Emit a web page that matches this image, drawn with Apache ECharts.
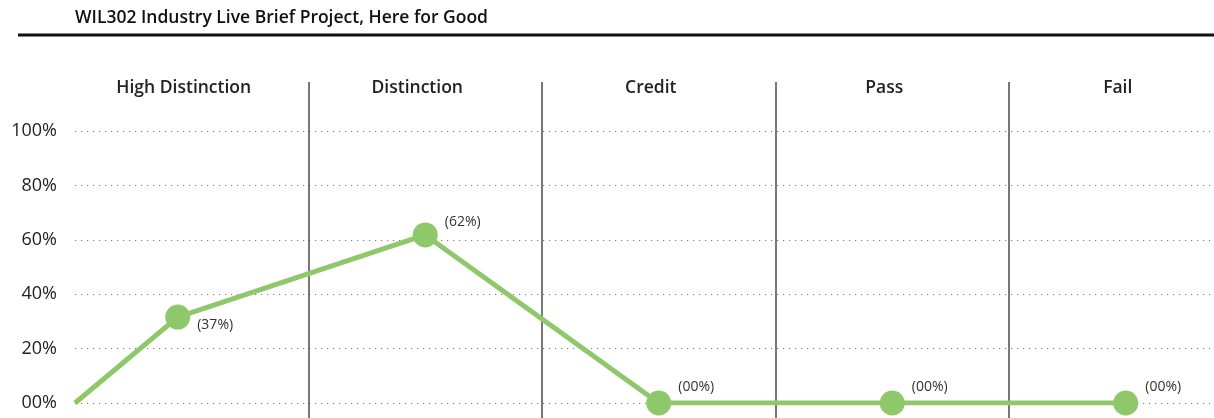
<!DOCTYPE html>
<html>
<head>
<meta charset="utf-8">
<style>
  html, body { margin: 0; padding: 0; background: #ffffff; }
  #chart { width: 1214px; height: 418px; }
</style>
<script src="https://cdn.jsdelivr.net/npm/echarts@6/dist/echarts.min.js"></script>
</head>
<body>
<div id="chart"></div>
<script>
// ---- data ----
const titleText = 'WIL302 Industry Live Brief Project, Here for Good';
const categories = ['High Distinction', 'Distinction', 'Credit', 'Pass', 'Fail'];
// position of each point along the category bands (band units, 0 = left edge)
const xPositions = [0, 0.44, 1.5, 2.5, 3.5, 4.5];
// plotted values (percent); first value is the starting point at the left edge
const values = [0, 31.6, 61.8, 0, 0, 0];
// label texts shown next to each point (first point has no label)
const labelTexts = ['', '(37%)', '(62%)', '(00%)', '(00%)', '(00%)'];
const yTicks = [0, 20, 40, 60, 80, 100];

// ---- styles ----
const green = '#8fc86a';
const fontFamily = '"Open Sans", "Noto Sans", sans-serif';
const labelOffsets = [0, 8, -13, -16, -16, -16];
const plotWidth = 1167.5;

const seriesData = values.map((v, i) => {
  const item = { value: [xPositions[i], v] };
  if (i === 0) {
    item.symbolSize = 0;
    item.label = { show: false };
  } else {
    item.label = {
      show: true,
      position: 'right',
      distance: 7,
      offset: [0, labelOffsets[i]],
      formatter: labelTexts[i]
    };
  }
  return item;
});

const chart = echarts.init(document.getElementById('chart'), null, { renderer: 'canvas' });
chart.setOption({
  animation: false,
  backgroundColor: '#ffffff',
  textStyle: { fontFamily: fontFamily },
  title: {
    text: titleText,
    left: 75,
    top: 9,
    padding: 0,
    textStyle: { fontFamily: fontFamily, fontSize: 17.5, fontWeight: 600, color: '#111111' }
  },
  graphic: [{
    type: 'line',
    shape: { x1: 18, y1: 35, x2: 1214, y2: 35 },
    style: { stroke: '#111111', lineWidth: 3 },
    silent: true
  }],
  grid: [
    { left: 75, width: plotWidth, top: 131, bottom: 15, containLabel: false, outerBoundsMode: 'none' },
    { left: 75, width: plotWidth, top: 82, bottom: 0, containLabel: false, outerBoundsMode: 'none' }
  ],
  xAxis: [
    {
      gridIndex: 0,
      type: 'value',
      min: 0,
      max: 5,
      show: false
    },
    {
      gridIndex: 1,
      type: 'category',
      position: 'top',
      data: categories,
      boundaryGap: true,
      axisLine: { show: false },
      axisTick: { show: false },
      axisLabel: {
        show: true,
        margin: -6,
        verticalAlign: 'middle',
        padding: [0, 16, 0, 0],
        fontFamily: fontFamily,
        fontSize: 17.5,
        fontWeight: 600,
        color: '#222222'
      },
      splitLine: {
        show: true,
        showMinLine: false,
        showMaxLine: false,
        lineStyle: { color: '#4a4a4a', width: 1.5 }
      }
    }
  ],
  yAxis: [
    {
      gridIndex: 0,
      type: 'value',
      min: yTicks[0],
      max: yTicks[yTicks.length - 1],
      interval: yTicks[1] - yTicks[0],
      axisLine: { show: false },
      axisTick: { show: false },
      axisLabel: {
        margin: 18,
        fontFamily: fontFamily,
        fontSize: 18,
        color: '#222222',
        padding: [0, 0, 5, 0],
        formatter: v => (v === 0 ? '00' : String(v)) + '%'
      },
      splitLine: {
        show: true,
        lineStyle: { color: '#777777', width: 1, type: [1.2, 4.8] }
      }
    },
    {
      gridIndex: 1,
      type: 'value',
      show: false
    }
  ],
  series: [{
    type: 'line',
    xAxisIndex: 0,
    yAxisIndex: 0,
    data: seriesData,
    symbol: 'circle',
    symbolSize: 25,
    lineStyle: { color: green, width: 5 },
    itemStyle: { color: green },
    label: {
      color: '#333333',
      fontFamily: fontFamily,
      fontSize: 14
    },
    z: 5
  }]
});
</script>
</body>
</html>
